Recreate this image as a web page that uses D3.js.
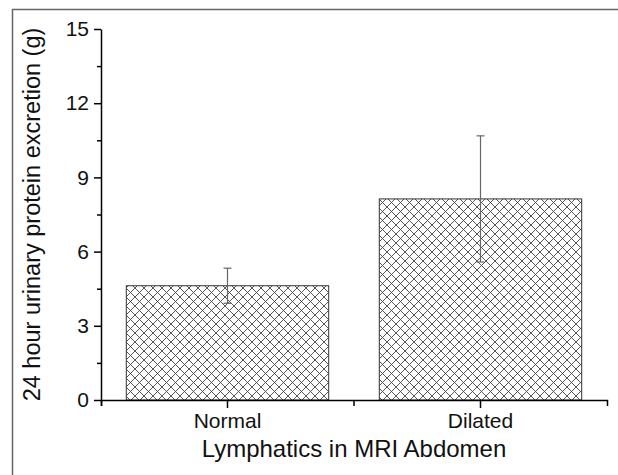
<!DOCTYPE html>
<html>
<head>
<meta charset="utf-8">
<script src="https://cdn.jsdelivr.net/npm/d3@7"></script>
<style>
  body { margin: 0; background: #fff; }
  svg { display: block; font-family: "Liberation Sans", Arial, sans-serif; }
</style>
</head>
<body>
<div id="chart"></div>
<script>
// values
const categories = ['Normal', 'Dilated'];
const means = [4.62, 8.13];
const errors = [0.71, 2.55];
const yTicks = [0, 3, 6, 9, 12, 15];
const yMinorTicks = [1.5, 4.5, 7.5, 10.5, 13.5];

const width = 618, height = 475;
const margin = {top: 29, right: 11, bottom: 75, left: 101};

const svg = d3.select('#chart').append('svg')
    .attr('width', width)
    .attr('height', height);

// frame of the original figure (cropped on right/bottom)
svg.append('path')
    .attr('d', `M12.5,${height} V9.5 H${width}`)
    .attr('fill', 'none')
    .attr('stroke', '#666')
    .attr('stroke-width', 1.5);

// crosshatch fill
const pat = svg.append('defs').append('pattern')
    .attr('id', 'hatch')
    .attr('patternUnits', 'userSpaceOnUse')
    .attr('width', 9)
    .attr('height', 9);
pat.append('rect').attr('width', 9).attr('height', 9).attr('fill', '#fff');
pat.append('path')
    .attr('d', 'M0,0 L9,9 M-1,8 L1,10 M8,-1 L10,1 M9,0 L0,9 M-1,1 L1,-1 M8,10 L10,8')
    .attr('stroke', '#444')
    .attr('stroke-width', 0.9);

const x = d3.scaleBand()
    .domain(categories)
    .range([margin.left, width - margin.right])
    .paddingInner(0.2)
    .paddingOuter(0.1);

const y = d3.scaleLinear()
    .domain([0, 15])
    .range([height - margin.bottom, margin.top]);

// bars
svg.selectAll('rect.bar')
    .data(categories)
    .enter()
    .append('rect')
    .attr('class', 'bar')
    .attr('x', d => x(d))
    .attr('width', x.bandwidth())
    .attr('y', (d, i) => y(means[i]))
    .attr('height', (d, i) => y(0) - y(means[i]))
    .attr('fill', 'url(#hatch)')
    .attr('stroke', '#333')
    .attr('stroke-width', 1);

// error bars
const eb = svg.selectAll('g.err')
    .data(categories)
    .enter()
    .append('g')
    .attr('class', 'err')
    .attr('stroke', '#666')
    .attr('stroke-width', 1.2);
eb.append('line')
    .attr('x1', d => x(d) + x.bandwidth() / 2)
    .attr('x2', d => x(d) + x.bandwidth() / 2)
    .attr('y1', (d, i) => y(means[i] - errors[i]))
    .attr('y2', (d, i) => y(means[i] + errors[i]));
[1, -1].forEach(s => {
  eb.append('line')
      .attr('x1', d => x(d) + x.bandwidth() / 2 - 4)
      .attr('x2', d => x(d) + x.bandwidth() / 2 + 4)
      .attr('y1', (d, i) => y(means[i] + s * errors[i]))
      .attr('y2', (d, i) => y(means[i] + s * errors[i]));
});

// y axis
svg.append('g')
    .attr('transform', `translate(${margin.left},0)`)
    .call(d3.axisLeft(y).tickValues(yTicks).tickSize(7).tickPadding(5).tickSizeOuter(0));
svg.append('g')
    .attr('transform', `translate(${margin.left},0)`)
    .call(d3.axisLeft(y).tickValues(yMinorTicks).tickSize(4).tickFormat('').tickSizeOuter(0))
    .select('.domain').remove();

// x axis
svg.append('g')
    .attr('transform', `translate(0,${y(0)})`)
    .call(d3.axisBottom(x).tickSize(8).tickPadding(5).tickSizeOuter(6));
const bounds = [x.range()[0] + 0.5, (x(categories[0]) + x.bandwidth() + x(categories[1])) / 2];
svg.append('g')
    .selectAll('line')
    .data(bounds)
    .enter()
    .append('line')
    .attr('x1', d => d).attr('x2', d => d)
    .attr('y1', y(0)).attr('y2', y(0) + 6)
    .attr('stroke', '#000')
    .attr('stroke-width', 1.5);

svg.selectAll('.domain, .tick line')
    .attr('stroke', '#000')
    .attr('stroke-width', 1.5);
svg.selectAll('.tick text')
    .attr('font-size', 21)
    .attr('fill', '#111');

// axis titles
svg.append('text')
    .attr('x', (margin.left + width - margin.right) / 2)
    .attr('y', 457)
    .attr('text-anchor', 'middle')
    .attr('font-size', 24)
    .attr('fill', '#111')
    .text('Lymphatics in MRI Abdomen');

svg.append('text')
    .attr('transform', `translate(40,${(margin.top + y(0)) / 2}) rotate(-90)`)
    .attr('text-anchor', 'middle')
    .attr('font-size', 23.5)
    .attr('fill', '#111')
    .text('24 hour urinary protein excretion (g)');
</script>
</body>
</html>
